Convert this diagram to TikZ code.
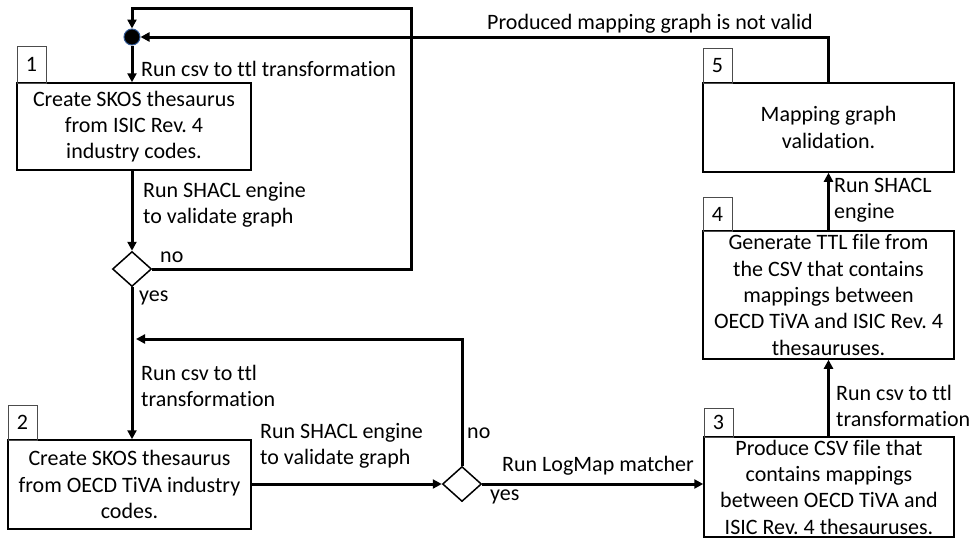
\documentclass[tikz,border=0pt]{standalone}
\usepackage{fontspec}
\setmainfont{Carlito}[Ligatures=NoCommon]
\frenchspacing
\usetikzlibrary{shapes.geometric,arrows.meta}
\definecolor{dotblue}{RGB}{50,90,150}
\tikzset{
  stepbox/.style={draw=black, line width=1.5pt, inner sep=0pt, align=center, font=\fontsize{22}{26.3}\selectfont},
  numbox/.style={draw=black!70, line width=1pt, inner sep=0pt, font=\fontsize{22}{26.3}\selectfont},
  decision/.style={draw=black, line width=1.5pt, diamond, inner sep=0pt, minimum width=39pt, minimum height=35pt},
  conn/.style={line width=3pt, -{Triangle[length=9pt,width=9pt]}},
  lbl/.style={inner sep=0pt, anchor=west, align=left, font=\fontsize{22}{26}\selectfont},
}
\begin{document}
\begin{tikzpicture}[x=1pt,y=-1pt]
\useasboundingbox (0,0) rectangle (971,541);
% step boxes
\node[stepbox, minimum width=234pt, minimum height=87pt] (b1) at (134,126.5) {Create SKOS thesaurus\\from ISIC Rev. 4\\industry codes.};
\node[numbox, minimum width=29pt, minimum height=37pt] (l1) at (31.5,64.5) {1};
\node[stepbox, minimum width=243pt, minimum height=89pt] (b2) at (129.5,484.5) {Create SKOS thesaurus\\from OECD TiVA industry\\codes.};
\node[numbox, minimum width=29pt, minimum height=35pt] (l2) at (22.5,422.5) {2};
\node[stepbox, minimum width=250pt, minimum height=100pt] (b3) at (829,487) {Produce CSV file that\\contains mappings\\between OECD TiVA and\\ISIC Rev. 4 thesauruses.};
\node[numbox, minimum width=29pt, minimum height=29pt] (l3) at (718.5,422.5) {3};
\node[stepbox, minimum width=251pt, minimum height=128pt] (b4) at (828.5,295) {Generate TTL file from\\the CSV that contains\\mappings between\\OECD TiVA and ISIC Rev. 4\\thesauruses.};
\node[numbox, minimum width=29pt, minimum height=34pt] (l4) at (717.5,214) {4};
\node[stepbox, minimum width=251pt, minimum height=89pt] (b5) at (828.5,127.5) {Mapping graph\\validation.};
\node[numbox, minimum width=29pt, minimum height=35pt] (l5) at (717.5,65.5) {5};
% decisions and junction
\node[decision] (d1) at (132,269) {};
\node[decision] (d2) at (462,484) {};
\node[circle, fill=black, draw=dotblue, line width=1pt, minimum size=16pt, inner sep=0pt] (dot) at (132,37) {};
\coordinate (c1) at (411,269);
\coordinate (c2) at (411,8);
\coordinate (c3) at (132,8);
\coordinate (c4) at (462,339);
\coordinate (c5) at (136,339);
\coordinate (c6) at (828.5,37);
% connectors
\draw[conn] (dot) -- (b1.north -| dot);
\draw[conn] (b1.south -| d1) -- (d1.north);
\draw[conn] (d1.east) -- (c1) -- (c2) -- (c3) -- (dot.north);
\draw[conn] (d1.south) -- (d1.south |- b2.north);
\draw[conn] (d2.north) -- (c4) -- (c5);
\draw[conn] (b2.east |- d2) -- (d2.west);
\draw[conn] (d2.east) -- (d2.east -| b3.west);
\draw[conn] (b3.north -| b4.south) -- (b4.south);
\draw[conn] (b4.north) -- (b5.south);
\draw[conn] (b5.north) -- (c6) -- (dot.east);
% labels
\node[lbl] (t1) at (141,69) {Run csv to ttl transformation};
\node[lbl] (t2) at (143,205) {Run SHACL engine\\to validate graph};
\node[lbl] (t3) at (160,257) {no};
\node[lbl] (t4) at (139,298) {yes};
\node[lbl] (t5) at (141,385.5) {Run csv to ttl\\transformation};
\node[lbl] (t6) at (260,446) {Run SHACL engine\\to validate graph};
\node[lbl] (t7) at (467,433) {no};
\node[lbl] (t8) at (490,497) {yes};
\node[lbl] (t9) at (502,466) {Run LogMap matcher};
\node[lbl] (t10) at (836,406) {Run csv to ttl\\transformation};
\node[lbl] (t11) at (834,200.5) {Run SHACL\\engine};
\node[lbl] (t12) at (487,24) {Produced mapping graph is not valid};
\end{tikzpicture}
\end{document}
